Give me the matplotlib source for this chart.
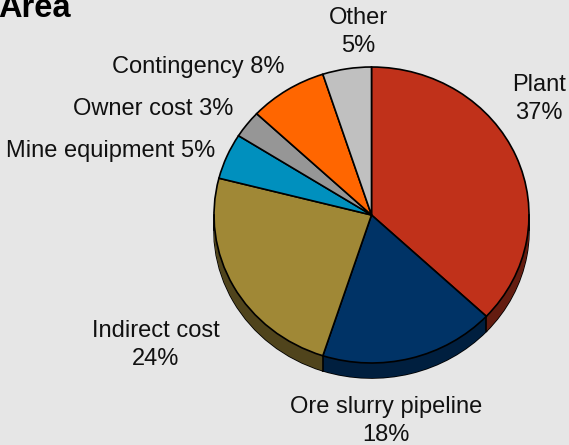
import matplotlib
matplotlib.use('Agg')
import matplotlib.pyplot as plt
import numpy as np

BG = '#e6e6e6'
W, H = 569, 445
# pie geometry in pixels
CX, CY = 371.5, 215.0
RX, RY = 157.5, 148.0
DEPTH = 15

names = ['Plant', 'Ore slurry pipeline', 'Indirect cost', 'Mine equipment',
         'Owner cost', 'Contingency', 'Other']
values = [37, 18, 24, 5, 3, 8, 5]
colors = ['#c0311a', '#003366', '#a08836', '#0090be', '#969696', '#ff6600', '#c0c0c0']
side_colors = ['#641c10', '#001f3f', '#50441c', '#004860', '#4b4b4b', '#803300', '#606060']

plt.rcParams['font.family'] = ['Liberation Sans', 'DejaVu Sans']
FS = 17.0


def label(px, py, s, ha='center', **kw):
    fig.text(px / W, 1 - py / H, s, ha=ha, va='center', fontsize=kw.pop('fontsize', FS),
             color='#111111', linespacing=1.33, **kw)


fig = plt.figure(figsize=(W / 100, H / 100), dpi=100, facecolor=BG)
ax = fig.add_axes([0, 0, 1, 1])

d = DEPTH / RY
# bottom outline, then side wall built up from shifted pies
ax.pie(values, colors=side_colors, startangle=90, counterclock=False, center=(0, -d),
       wedgeprops={'edgecolor': 'black', 'linewidth': 1.2})
for off in np.linspace(d, 0, DEPTH + 1):
    ax.pie(values, colors=side_colors, startangle=90, counterclock=False, center=(0, -off),
           wedgeprops={'edgecolor': 'none'})

# vertical edges of the wall, only where a slice border faces the viewer
ang = np.deg2rad(np.cumsum(values) / np.sum(values) * 360)
xs = np.sin(ang)
ys = np.cos(ang)
for x, y in zip(xs, ys):
    if y < 0:
        ax.plot([x, x], [y, y - d], color='black', lw=1.2)
ax.plot([-1, -1], [0, -d], color='black', lw=1.2)
ax.plot([1, 1], [0, -d], color='black', lw=1.2)

ax.pie(values, colors=colors, startangle=90, counterclock=False,
       wedgeprops={'edgecolor': 'black', 'linewidth': 1.2})

ax.set_aspect('auto')
ax.set_xlim(-CX / RX, (W - CX) / RX)
ax.set_ylim((CY - H) / RY, CY / RY)
ax.patch.set_visible(False)

label(358, 32, 'Other\n5%')
label(539, 99, 'Plant\n37%')
label(285, 67, 'Contingency 8%', ha='right')
label(233, 109, 'Owner cost 3%', ha='right')
label(215, 151, 'Mine equipment 5%', ha='right')
label(156, 345, 'Indirect cost\n24%')
label(386, 421, 'Ore slurry pipeline\n18%')
fig.text(-2 / W, 1 - 17 / H, 'Area', ha='left', va='baseline', fontsize=23.5, fontweight='bold', color='black')

fig.savefig('out.png', dpi=100, facecolor=BG)
